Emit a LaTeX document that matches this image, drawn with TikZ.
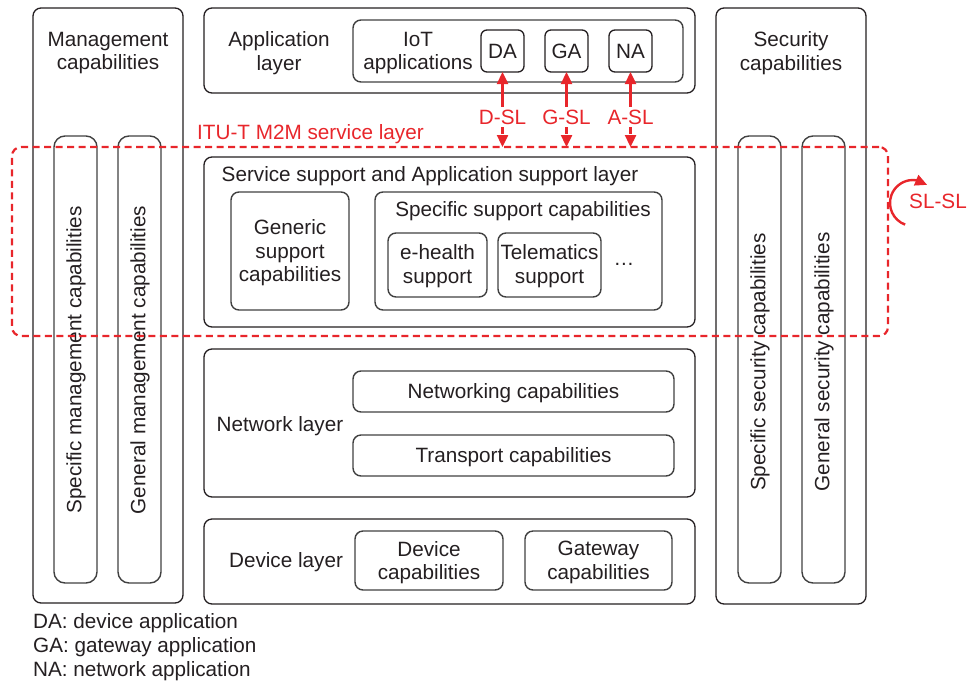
\documentclass[tikz,border=0pt]{standalone}
\usepackage{fontspec}
\setmainfont{Liberation Sans}
\usetikzlibrary{arrows.meta,bending}

\definecolor{ink}{rgb}{0.14,0.12,0.13}
\definecolor{edge}{rgb}{0.25,0.25,0.25}
\definecolor{slred}{rgb}{0.91,0.15,0.17}

% box from corner (x1,y1) to corner (x2,y2), in pixel-like units, y downward
\newcommand{\pbox}[6]{%
  \node[#6, minimum width={#4-#2}, minimum height={#5-#3}] (#1)
    at ({(#2+#4)/2},{(#3+#5)/2}) {};}

\begin{document}
\begin{tikzpicture}[x=1pt,y=-1pt,
  every node/.style={font=\fontsize{20.7}{23.5}\selectfont, text=ink, align=center},
  layer/.style={draw=ink, line width=1.3pt, rounded corners=8pt, inner sep=0pt, outer sep=0pt},
  capbox/.style={draw=edge, line width=1.4pt, rounded corners=8pt, inner sep=0pt, outer sep=0pt},
  pillar/.style={draw=edge, line width=1.4pt, rounded corners=11pt, inner sep=0pt, outer sep=0pt},
  appbox/.style={draw=ink, line width=1.3pt, rounded corners=6pt, inner sep=0pt, outer sep=0pt},
  txt/.style={inner sep=0pt},
  sltxt/.style={text=slred, inner sep=2.5pt},
  sltip/.style={-{Triangle[length=12pt,width=11pt]}},
  slarrow/.style={draw=slred, line width=2.4pt, sltip},
  sldash/.style={draw=slred, line width=2.4pt, dash pattern=on 7pt off 4.5pt, sltip},
  slframe/.style={draw=slred, line width=2.2pt, dash pattern=on 7pt off 4.5pt,
    rounded corners=9pt, inner sep=0pt, outer sep=0pt}]

\useasboundingbox (0,0) rectangle (968,683);

% management column
\pbox{mgmt}{33}{8}{183}{603}{layer}
\node[txt] (mgmtT) at (108,53) {Management\\capabilities};
\pbox{smc}{54}{136}{97}{583}{pillar}
\pbox{gmc}{118}{136}{161}{583}{pillar}
\node[txt, rotate=90] (smcT) at (76,360) {Specific management capabilities};
\node[txt, rotate=90] (gmcT) at (140,360) {General management capabilities};

% security column
\pbox{sec}{716}{8}{866}{604}{layer}
\node[txt] (secT) at (791,53) {Security\\capabilities};
\pbox{ssc}{738}{136}{781}{583}{pillar}
\pbox{gsc}{802}{136}{845}{583}{pillar}
\node[txt, rotate=90] (sscT) at (760,362) {Specific security capabilities};
\node[txt, rotate=90] (gscT) at (824,362) {General security capabilities};

% application layer
\pbox{app}{204}{8}{695}{93}{layer}
\node[txt] (appT) at (279,53) {Application\\layer};
\pbox{iot}{353}{20}{683}{82}{capbox}
\node[txt] (iotT) at (418,53) {IoT\\applications};
\pbox{da}{481}{30}{524}{72}{appbox}
\pbox{ga}{545}{30}{588}{72}{appbox}
\pbox{na}{609}{30}{652}{72}{appbox}
\node[txt] at (da) {DA};
\node[txt] at (ga) {GA};
\node[txt] at (na) {NA};

% service support and application support layer
\pbox{sas}{204}{157}{695}{327}{layer}
\node[txt] (sasT) at (430,176) {Service support and Application support layer};
\pbox{gen}{231}{192}{349}{310}{capbox}
\node[txt] (genT) at (290,253) {Generic\\support\\capabilities};
\pbox{spec}{375}{192}{662}{310}{capbox}
\node[txt] (specT) at (523,211) {Specific support capabilities};
\pbox{eh}{388}{233}{487}{297}{capbox}
\node[txt] (ehT) at (437.5,266) {e-health\\support};
\pbox{tel}{498}{233}{601}{297}{capbox}
\node[txt] (telT) at (549.5,266) {Telematics\\support};
\node[txt] (more) at (624,264) {…};

% network layer
\pbox{net}{204}{349}{695}{497}{layer}
\node[txt] (netT) at (280,426) {Network layer};
\pbox{nwk}{353}{371}{674}{412}{capbox}
\node[txt] at ([yshift=-1.5pt]nwk.center) {Networking capabilities};
\pbox{trn}{353}{435}{674}{476}{capbox}
\node[txt] at ([yshift=-1.5pt]trn.center) {Transport capabilities};

% device layer
\pbox{dev}{204}{519}{695}{604}{layer}
\node[txt] (devT) at (286,562) {Device layer};
\pbox{dcap}{355}{531}{503}{590}{capbox}
\node[txt] at ([yshift=-2pt]dcap.center) {Device\\capabilities};
\pbox{gcap}{525}{531}{672}{590}{capbox}
\node[txt] at ([yshift=-2pt]gcap.center) {Gateway\\capabilities};

% ITU-T M2M service layer frame
\pbox{sl}{12}{147}{888}{336}{slframe}
\node[sltxt, anchor=west, inner sep=0pt] (slT) at (197,134) {ITU-T M2M service layer};

% reference points towards the applications
\node[sltxt] (dsl) at (502.5,117) {D-SL};
\node[sltxt] (gsl) at (566.5,117) {G-SL};
\node[sltxt] (asl) at (630.5,117) {A-SL};
\foreach \r/\a in {dsl/da, gsl/ga, asl/na}{
  \draw[slarrow] (\r.north) -- (\r.north |- \a.south);
  \draw[sldash] (\r.south) -- (\r.south |- sl.north);
}

% SL-SL reference point
\coordinate (loop) at (913,203);
\draw[slarrow] (loop) ++(250:23pt) arc[start angle=250, end angle=52, radius=23pt];
\node[sltxt] (slsl) at (938,201) {SL-SL};

% legend
\node[txt, anchor=west] (lg1) at (33,623) {DA: device application};
\node[txt, anchor=west] (lg2) at (33,647) {GA: gateway application};
\node[txt, anchor=west] (lg3) at (33,671) {NA: network application};

\end{tikzpicture}
\end{document}
